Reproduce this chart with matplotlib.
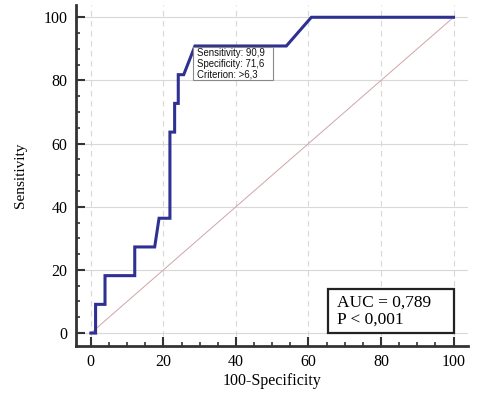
import matplotlib
matplotlib.use('Agg')
import matplotlib.pyplot as plt
from matplotlib.patches import Rectangle
from matplotlib.ticker import MultipleLocator

# ROC curve points (100-Specificity, Sensitivity)
fpr = [0, 1.3, 1.3, 3.9, 3.9, 12.1, 12.1, 17.6, 18.8, 21.8, 21.8, 23.1, 23.1, 24.1, 24.1, 25.6, 28.7, 53.9, 60.8, 100]
tpr = [0, 0, 9.09, 9.09, 18.18, 18.18, 27.27, 27.27, 36.36, 36.36, 63.64, 63.64, 72.73, 72.73, 81.82, 81.82, 90.91, 90.91, 100, 100]

ticks = [0, 20, 40, 60, 80, 100]
note_text = 'Sensitivity: 90,9\nSpecificity: 71,6\nCriterion: >6,3'
auc_text = 'AUC = 0,789\nP < 0,001'

serif = 'Liberation Serif'
sans = 'Liberation Sans'

fig = plt.figure(figsize=(4.81, 3.94), dpi=100)
ax = fig.add_axes([0.158, 0.1226, 0.815, 0.864])

ax.set_xlim(-4.1, 104)
ax.set_ylim(-4, 103.8)

# grid: vertical dashed, horizontal solid
for t in ticks:
    ax.axvline(t, color='#d8d8d8', lw=0.8, ls=(0, (5, 4)), zorder=0)
    ax.axhline(t, color='#d8d8d8', lw=0.8, zorder=0)

# diagonal reference
ax.plot([0, 100], [0, 100], color='#d0a4a8', lw=0.7, zorder=1)

# ROC curve
ax.plot(fpr, tpr, color='#2e3192', lw=2.2, solid_joinstyle='miter', zorder=3)

# criterion annotation
ax.add_patch(Rectangle((28.1, 80.1), 22.0, 10.4, fc='white', ec='#8a8a8a', lw=0.8, zorder=4))
ax.text(29.2, 85.3, note_text, fontsize=6.9, family=sans, va='center', ha='left',
        linespacing=1.05, color='#111111', zorder=5)

# AUC box
ax.add_patch(Rectangle((65.3, -0.1), 34.7, 14.0, fc='white', ec='#222222', lw=1.6, zorder=4))
ax.text(68.0, 6.9, auc_text, fontsize=12.5, family=serif, va='center', ha='left',
        linespacing=1.1, zorder=5)

# spines and ticks
for s in ['top', 'right']:
    ax.spines[s].set_visible(False)
for s in ['left', 'bottom']:
    ax.spines[s].set_color('#333333')
    ax.spines[s].set_linewidth(2.0)

ax.set_xticks(ticks)
ax.set_yticks(ticks)
ax.xaxis.set_minor_locator(MultipleLocator(5))
ax.yaxis.set_minor_locator(MultipleLocator(5))
ax.tick_params(which='major', direction='in', length=6.5, width=1.5, color='#333333',
               labelsize=11.5, pad=6)
ax.tick_params(which='minor', direction='in', length=3, width=1.2, color='#333333')
for lab in ax.get_xticklabels() + ax.get_yticklabels():
    lab.set_family(serif)

ax.set_xlabel('100-Specificity', family=serif, fontsize=11.5, labelpad=2)
ax.set_ylabel('Sensitivity', family=serif, fontsize=11, labelpad=12)

fig.savefig('out.png', dpi=100)
